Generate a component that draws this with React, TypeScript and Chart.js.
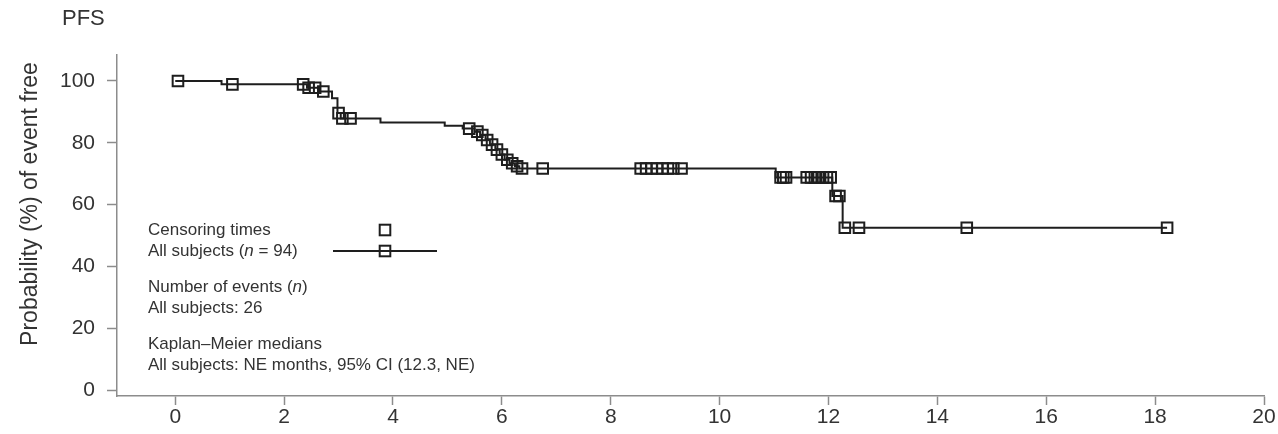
import React, { useEffect, useRef } from "react";
import { Chart, registerables } from "chart.js";

Chart.register(...registerables);

// ---------- data ----------
const xTickValues = [0, 2, 4, 6, 8, 10, 12, 14, 16, 18, 20];
const yTickValues = [0, 20, 40, 60, 80, 100];

const startSurvival = 100;
const eventTimes = [
  0.85, 2.42, 2.65, 2.88, 2.98, 3.04, 3.77, 4.95, 5.28, 5.5, 5.6, 5.7, 5.78,
  5.88, 5.96, 6.05, 6.14, 6.24, 6.32, 11.03, 12.07, 12.26,
];
const survivalAfterEvent = [
  98.9, 97.8, 96.6, 94.4, 89.6, 87.9, 86.6, 85.5, 84.6, 83.6, 82.5, 80.9, 79.4,
  77.8, 76.2, 74.5, 73.4, 72.4, 71.7, 68.8, 62.8, 52.5,
];
const censorTimes = [
  0.05, 1.05, 2.35, 2.45, 2.57, 2.72, 3.0, 3.07, 3.22, 5.4, 5.55, 5.64, 5.73,
  5.82, 5.91, 6.0, 6.1, 6.19, 6.28, 6.37, 6.75, 8.55, 8.65, 8.75, 8.85, 8.95,
  9.05, 9.15, 9.3, 11.12, 11.17, 11.22, 11.6, 11.68, 11.75, 11.82, 11.9, 11.97,
  12.04, 12.13, 12.2, 12.3, 12.56, 14.54, 18.22,
];
const followUpEnd = 18.22;

const panelTitle = "PFS";
const yAxisTitle = "Probability (%) of event free";

const FONT = '"Liberation Sans", Arial, Helvetica, sans-serif';
const INK = "#1e1e1e";
const TEXT = "#333333";
const AXIS = "#8c8c8c";

function survivalAt(t: number): number {
  let s = startSurvival;
  for (let i = 0; i < eventTimes.length; i++) {
    if (eventTimes[i] <= t) s = survivalAfterEvent[i];
  }
  return s;
}

const stepData = [
  { x: 0, y: startSurvival },
  ...eventTimes.map((t, i) => ({ x: t, y: survivalAfterEvent[i] })),
  { x: followUpEnd, y: survivalAfterEvent[survivalAfterEvent.length - 1] },
];
const censorData = censorTimes.map((t) => ({ x: t, y: survivalAt(t) }));

type Part = [string, boolean];
const legendGroups: Part[][][] = [
  [
    [["Censoring times", false]],
    [
      ["All subjects (", false],
      ["n", true],
      [" = 94)", false],
    ],
  ],
  [
    [
      ["Number of events (", false],
      ["n", true],
      [")", false],
    ],
    [["All subjects: 26", false]],
  ],
  [
    [["Kaplan\u2013Meier medians", false]],
    [["All subjects: NE months, 95% CI (12.3, NE)", false]],
  ],
];

function drawRich(ctx: CanvasRenderingContext2D, parts: Part[], x: number, y: number, size: number) {
  let cx = x;
  for (const [txt, italic] of parts) {
    ctx.font = `${italic ? "italic " : ""}${size}px ${FONT}`;
    ctx.fillText(txt, cx, y);
    cx += ctx.measureText(txt).width;
  }
}

function drawSquare(ctx: CanvasRenderingContext2D, cx: number, cy: number) {
  const h = 5.3;
  ctx.strokeRect(cx - h, cy - h, 2 * h, 2 * h);
}

const overlayPlugin = {
  id: "overlayText",
  afterDraw(chart: any) {
    const { ctx, chartArea: a } = chart;
    ctx.save();
    ctx.fillStyle = TEXT;
    ctx.textBaseline = "middle";
    ctx.textAlign = "left";

    // panel title
    ctx.font = `22px ${FONT}`;
    ctx.fillText(panelTitle, 62, 19);

    // y axis title
    ctx.save();
    ctx.translate(31, 204);
    ctx.rotate(-Math.PI / 2);
    ctx.textAlign = "center";
    ctx.font = `23px ${FONT}`;
    ctx.fillText(yAxisTitle, 0, 0);
    ctx.restore();

    // legend block
    const lx = a.left + 31;
    let ly = a.top + 175;
    const lineGap = 21;
    const groupGap = 36;
    legendGroups.forEach((group, gi) => {
      group.forEach((line, li) => {
        drawRich(ctx, line, lx, ly, 17);
        if (li < group.length - 1) ly += lineGap;
      });
      if (gi < legendGroups.length - 1) ly += groupGap;
    });

    // legend symbols
    const symX = a.left + 268;
    const y1 = a.top + 175;
    const y2 = y1 + lineGap;
    ctx.strokeStyle = INK;
    ctx.lineWidth = 2;
    drawSquare(ctx, symX, y1);
    ctx.beginPath();
    ctx.moveTo(a.left + 216, y2);
    ctx.lineTo(a.left + 320, y2);
    ctx.stroke();
    drawSquare(ctx, symX, y2);
    ctx.restore();
  },
};

export default function App() {
  const ref = useRef<HTMLCanvasElement | null>(null);

  useEffect(() => {
    if (!ref.current) return;
    const chart = new Chart(ref.current, {
      type: "scatter",
      data: {
        datasets: [
          {
            type: "line",
            data: stepData,
            stepped: true,
            borderColor: INK,
            borderWidth: 2,
            pointRadius: 0,
            fill: false,
          } as any,
          {
            type: "scatter",
            data: censorData,
            pointStyle: "rect",
            pointRadius: 7.5,
            pointBorderWidth: 2,
            pointBorderColor: INK,
            pointBackgroundColor: "rgba(0,0,0,0)",
            borderColor: INK,
            backgroundColor: "rgba(0,0,0,0)",
          },
        ],
      },
      options: {
        animation: false,
        responsive: true,
        maintainAspectRatio: false,
        layout: { padding: { top: 55, right: 14, bottom: 0, left: 0 } },
        plugins: {
          legend: { display: false },
          tooltip: { enabled: false },
        },
        scales: {
          x: {
            type: "linear",
            min: -1.07,
            max: 20,
            afterBuildTicks: (s: any) => {
              s.ticks = xTickValues.map((v) => ({ value: v }));
            },
            afterFit: (s: any) => {
              s.height = 38;
            },
            grid: {
              drawOnChartArea: false,
              drawTicks: true,
              tickLength: 9,
              tickColor: AXIS,
              tickWidth: 1.5,
            },
            border: { display: true, color: AXIS, width: 1.5 },
            ticks: {
              color: TEXT,
              font: { family: FONT, size: 21 },
              padding: 0,
              maxRotation: 0,
              autoSkip: false,
            },
          },
          y: {
            type: "linear",
            min: -1.9,
            max: 108.4,
            afterBuildTicks: (s: any) => {
              s.ticks = yTickValues.map((v) => ({ value: v }));
            },
            afterFit: (s: any) => {
              s.width = 117;
            },
            grid: {
              drawOnChartArea: false,
              drawTicks: true,
              tickLength: 10,
              tickColor: AXIS,
              tickWidth: 1.5,
            },
            border: { display: true, color: AXIS, width: 1.5 },
            ticks: {
              color: TEXT,
              font: { family: FONT, size: 21 },
              padding: 12,
              autoSkip: false,
            },
          },
        },
      },
      plugins: [overlayPlugin],
    });
    return () => chart.destroy();
  }, []);

  return (
    <div
      style={{
        position: "fixed",
        left: 0,
        top: 0,
        width: 1278,
        height: 434,
        background: "#ffffff",
      }}
    >
      <canvas ref={ref} />
    </div>
  );
}
